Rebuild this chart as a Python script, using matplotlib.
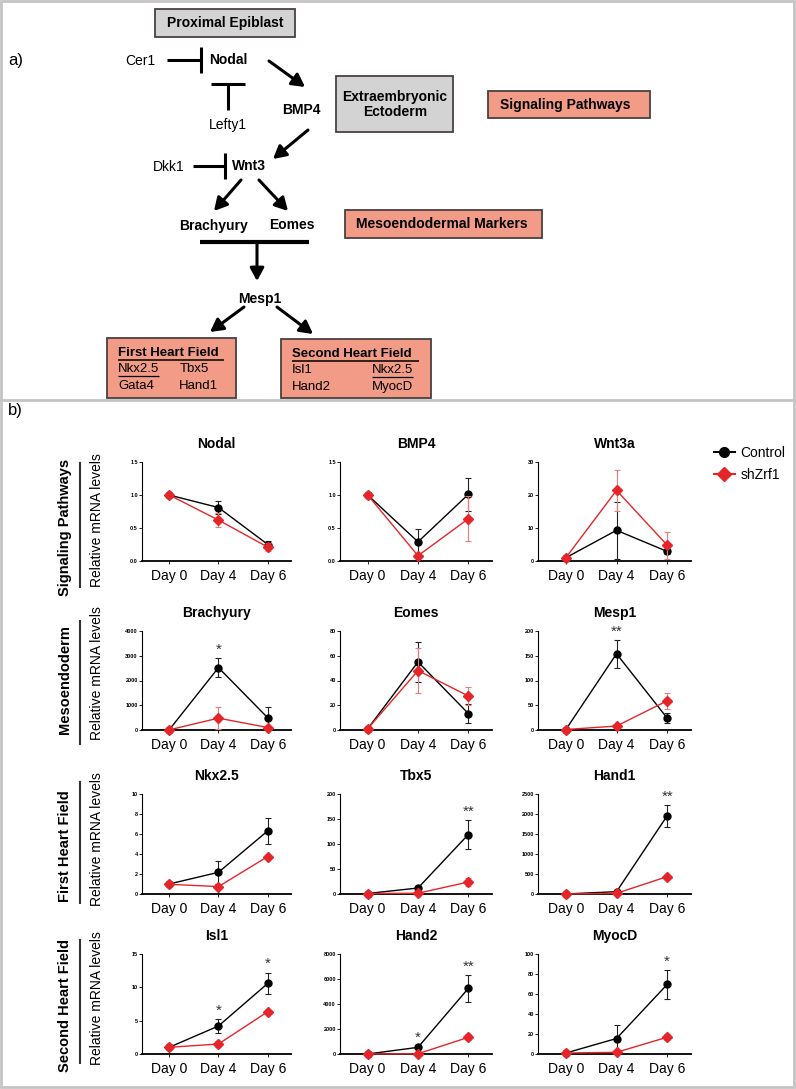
import matplotlib.pyplot as plt
from matplotlib.patches import Rectangle
from matplotlib.lines import Line2D

plt.rcParams['font.family'] = ['Liberation Sans', 'DejaVu Sans']

days = ['Day 0', 'Day 4', 'Day 6']
row_names = ['Signaling Pathways', 'Mesoendoderm', 'First Heart Field', 'Second Heart Field']
genes = ['Nodal', 'BMP4', 'Wnt3a', 'Brachyury', 'Eomes', 'Mesp1',
         'Nkx2.5', 'Tbx5', 'Hand1', 'Isl1', 'Hand2', 'MyocD']

# values (mean, error) for Control and shZrf1
nodal_ctrl = [1.00, 0.81, 0.25]
nodal_ctrl_sd = [0.02, 0.10, 0.05]
nodal_sh = [1.00, 0.62, 0.21]
nodal_sh_sd = [0.02, 0.10, 0.06]

bmp4_ctrl = [1.00, 0.29, 1.01]
bmp4_ctrl_sd = [0.02, 0.19, 0.25]
bmp4_sh = [1.00, 0.08, 0.64]
bmp4_sh_sd = [0.02, 0.03, 0.34]

wnt3a_ctrl = [1.0, 9.3, 2.9]
wnt3a_ctrl_sd = [0.3, 8.6, 0.8]
wnt3a_sh = [1.0, 21.4, 4.8]
wnt3a_sh_sd = [0.3, 6.3, 4.1]

brachy_ctrl = [5, 2520, 490]
brachy_ctrl_sd = [0, 370, 430]
brachy_sh = [5, 480, 100]
brachy_sh_sd = [0, 430, 60]

eomes_ctrl = [1, 55, 13.3]
eomes_ctrl_sd = [0, 16, 7.5]
eomes_sh = [1, 48, 27.5]
eomes_sh_sd = [0, 18, 7]

mesp1_ctrl = [1, 154, 24]
mesp1_ctrl_sd = [0, 28, 10]
mesp1_sh = [1, 8, 59]
mesp1_sh_sd = [0, 2, 16]

nkx_ctrl = [1.0, 2.17, 6.32]
nkx_ctrl_sd = [0.05, 1.17, 1.27]
nkx_sh = [0.97, 0.74, 3.75]
nkx_sh_sd = [0.05, 0.10, 0.15]

tbx5_ctrl = [1, 12, 119]
tbx5_ctrl_sd = [0.3, 5, 29]
tbx5_sh = [1, 1.5, 24]
tbx5_sh_sd = [0.3, 1, 8]

hand1_ctrl = [1, 58, 1956]
hand1_ctrl_sd = [0, 20, 270]
hand1_sh = [1, 17, 435]
hand1_sh_sd = [0, 5, 40]

isl1_ctrl = [1.0, 4.2, 10.6]
isl1_ctrl_sd = [0.05, 1.0, 1.6]
isl1_sh = [1.0, 1.5, 6.35]
isl1_sh_sd = [0.05, 0.4, 0.3]

hand2_ctrl = [1, 533, 5253]
hand2_ctrl_sd = [0, 100, 1070]
hand2_sh = [1, 20, 1333]
hand2_sh_sd = [0, 10, 250]

myocd_ctrl = [1, 15.5, 69.6]
myocd_ctrl_sd = [0.3, 14, 14.5]
myocd_sh = [1, 1.7, 16.8]
myocd_sh_sd = [0.3, 1, 3]

ctrl = [nodal_ctrl, bmp4_ctrl, wnt3a_ctrl, brachy_ctrl, eomes_ctrl, mesp1_ctrl,
        nkx_ctrl, tbx5_ctrl, hand1_ctrl, isl1_ctrl, hand2_ctrl, myocd_ctrl]
ctrl_sd = [nodal_ctrl_sd, bmp4_ctrl_sd, wnt3a_ctrl_sd, brachy_ctrl_sd, eomes_ctrl_sd, mesp1_ctrl_sd,
           nkx_ctrl_sd, tbx5_ctrl_sd, hand1_ctrl_sd, isl1_ctrl_sd, hand2_ctrl_sd, myocd_ctrl_sd]
sh = [nodal_sh, bmp4_sh, wnt3a_sh, brachy_sh, eomes_sh, mesp1_sh,
      nkx_sh, tbx5_sh, hand1_sh, isl1_sh, hand2_sh, myocd_sh]
sh_sd = [nodal_sh_sd, bmp4_sh_sd, wnt3a_sh_sd, brachy_sh_sd, eomes_sh_sd, mesp1_sh_sd,
         nkx_sh_sd, tbx5_sh_sd, hand1_sh_sd, isl1_sh_sd, hand2_sh_sd, myocd_sh_sd]

yticks = [[0, 0.5, 1.0, 1.5], [0, 0.5, 1.0, 1.5], [0, 10, 20, 30],
          [0, 1000, 2000, 3000, 4000], [0, 20, 40, 60, 80], [0, 50, 100, 150, 200],
          [0, 2, 4, 6, 8, 10], [0, 50, 100, 150, 200], [0, 500, 1000, 1500, 2000, 2500],
          [0, 5, 10, 15], [0, 2000, 4000, 6000, 8000], [0, 20, 40, 60, 80, 100]]

stars = [['', '', ''], ['', '', ''], ['', '', ''],
         ['', '*', ''], ['', '', ''], ['', '**', ''],
         ['', '', ''], ['', '', '**'], ['', '', '**'],
         ['', '*', '*'], ['', '*', '**'], ['', '', '*']]

RED = '#e4262b'
RED_ERR = '#ee7a7a'
SALMON = '#f29b87'
GREY = '#d3d3d3'

W, H = 796, 1089
fig = plt.figure(figsize=(W / 100, H / 100), dpi=100)

# ---- background / panel a diagram in pixel coordinates ----
bg = fig.add_axes([0, 0, 1, 1], zorder=0)
bg.set_xlim(0, W)
bg.set_ylim(H, 0)
bg.axis('off')

bg.add_patch(Rectangle((1, 1), W - 3, H - 3, fill=False, ec='#c4c4c4', lw=2))
bg.plot([1, W - 2], [400, 400], color='#c4c4c4', lw=2)


def box(x0, y0, x1, y1, fc):
    bg.add_patch(Rectangle((x0, y0), x1 - x0, y1 - y0, fc=fc, ec='#4a4040', lw=1.3))


def txt(x, y, s, bold=False, ha='center', size=10):
    bg.text(x, y, s, ha=ha, va='center', fontsize=size,
            fontweight='bold' if bold else 'normal')


def arrow(x0, y0, x1, y1):
    bg.annotate('', xy=(x1, y1), xytext=(x0, y0),
                arrowprops=dict(arrowstyle='-|>,head_length=0.55,head_width=0.3',
                                lw=2.2, color='k', shrinkA=0, shrinkB=0, mutation_scale=14))


def line(xs, ys, lw=2.2):
    bg.plot(xs, ys, color='k', lw=lw, solid_capstyle='butt')


bg.text(8, 60, 'a)', fontsize=12, va='center')
bg.text(8, 411, 'b)', fontsize=12, va='center')

box(155, 9, 295, 37, GREY)
txt(225, 23, 'Proximal Epiblast', bold=True)

txt(140, 61, 'Cer1')
line([167, 200], [60, 60])
line([201, 201], [47, 73])
txt(228, 60, 'Nodal', bold=True)
arrow(269, 61, 305, 87)

line([211, 245], [84, 84])
line([228, 228], [84, 110])
txt(228, 125, 'Lefty1')
txt(301, 110, 'BMP4', bold=True)

box(336, 76, 453, 132, GREY)
txt(395, 97, 'Extraembryonic', bold=True)
txt(395, 112, 'Ectoderm', bold=True)

box(488, 91, 650, 118, SALMON)
txt(565, 105, 'Signaling Pathways', bold=True)

arrow(308, 130, 273, 159)
txt(169, 167, 'Dkk1')
line([193, 224], [166, 166])
line([225, 225], [153, 179])
txt(249, 166, 'Wnt3', bold=True)
arrow(241, 180, 214, 211)
arrow(259, 180, 288, 211)
txt(213, 226, 'Brachyury', bold=True)
txt(292, 225, 'Eomes', bold=True)

box(345, 210, 542, 238, SALMON)
txt(442, 224, 'Mesoendodermal Markers', bold=True)

line([200, 309], [242, 242], lw=3)
arrow(257, 242, 257, 281)
txt(260, 299, 'Mesp1', bold=True)
arrow(244, 307, 210, 332)
arrow(277, 307, 313, 334)

box(107, 338, 236, 398, SALMON)
txt(118, 353, 'First Heart Field', bold=True, ha='left', size=9.5)
line([118, 224], [360, 360], lw=1.1)
txt(118, 369, 'Nkx2.5', ha='left', size=9.5)
line([118, 159], [376, 376], lw=0.9)
txt(180, 369, 'Tbx5', ha='left', size=9.5)
txt(118, 386, 'Gata4', ha='left', size=9.5)
txt(179, 386, 'Hand1', ha='left', size=9.5)

box(281, 339, 431, 398, SALMON)
txt(292, 354, 'Second Heart Field', bold=True, ha='left', size=9.5)
line([292, 419], [361, 361], lw=1.1)
txt(292, 370, 'Isl1', ha='left', size=9.5)
txt(372, 370, 'Nkx2.5', ha='left', size=9.5)
line([372, 413], [377, 377], lw=0.9)
txt(292, 387, 'Hand2', ha='left', size=9.5)
txt(372, 387, 'MyocD', ha='left', size=9.5)

# ---- panel b: row labels ----
row_center = [527, 680, 846, 1005]
row_line = [(463, 587), (621, 744), (782, 903), (940, 1063)]
for r in range(4):
    bg.text(65, row_center[r], row_names[r], rotation=90, ha='center', va='center',
            fontsize=10.5, fontweight='bold')
    bg.plot([80, 80], row_line[r], color='#333333', lw=1.5)
    bg.text(97, row_center[r] - 7, 'Relative mRNA levels', rotation=90, ha='center',
            va='center', fontsize=10)

# ---- panel b: the 12 small plots ----
col_left = [142, 340, 538]
col_right = [291, 492, 691]
row_top = [462, 631, 794, 954]
row_bot = [561, 730, 894, 1054]
x = [0, 1, 2]

for i, g in enumerate(genes):
    r, c = divmod(i, 3)
    ax = fig.add_axes([col_left[c] / W, 1 - row_bot[r] / H,
                       (col_right[c] - col_left[c]) / W, (row_bot[r] - row_top[r]) / H],
                      zorder=2)
    ax.patch.set_alpha(0)
    ax.errorbar(x, ctrl[i], yerr=ctrl_sd[i], color='k', marker='o', ms=5, lw=1,
                ecolor='#222222', elinewidth=0.8, capsize=2.5, capthick=0.8,
                clip_on=False, zorder=3)
    ax.errorbar(x, sh[i], yerr=sh_sd[i], color=RED, marker='D', ms=4.8, lw=1,
                ecolor=RED_ERR, elinewidth=0.8, capsize=2.5, capthick=0.8,
                clip_on=False, zorder=4)
    for k in range(3):
        if stars[i][k]:
            ax.annotate(stars[i][k], (x[k], ctrl[i][k] + ctrl_sd[i][k]), xytext=(0, 1),
                        textcoords='offset points', ha='center', va='bottom',
                        fontsize=11, color='#333333')
    ax.set_xlim(-0.55, 2.47)
    ax.set_ylim(0, yticks[i][-1])
    ax.set_yticks(yticks[i])
    if yticks[i][-1] < 2:
        ax.set_yticklabels(['%.1f' % t for t in yticks[i]])
    else:
        ax.set_yticklabels(['%d' % t for t in yticks[i]])
    ax.set_xticks(x)
    ax.set_xticklabels(days)
    ax.tick_params(axis='y', labelsize=4, length=2, width=0.6, pad=1)
    for lab in ax.get_yticklabels():
        lab.set_fontweight('bold')
    ax.tick_params(axis='x', labelsize=10, length=2.5, width=0.6, pad=3)
    for s in ['top', 'right']:
        ax.spines[s].set_visible(False)
    ax.spines['left'].set_linewidth(0.8)
    ax.spines['bottom'].set_linewidth(1.3)
    ax.set_title(g, fontsize=10, fontweight='bold', pad=10)

handles = [Line2D([], [], color='k', marker='o', ms=7, lw=1.5),
           Line2D([], [], color=RED, marker='D', ms=7, lw=1.5)]
fig.legend(handles, ['Control', 'shZrf1'], loc='upper left',
           bbox_to_anchor=(714 / W, 1 - 446 / H), frameon=False, fontsize=10,
           handlelength=1.5, handletextpad=0.4, labelspacing=0.6,
           borderpad=0, borderaxespad=0)

fig.savefig('out.png', dpi=100)
